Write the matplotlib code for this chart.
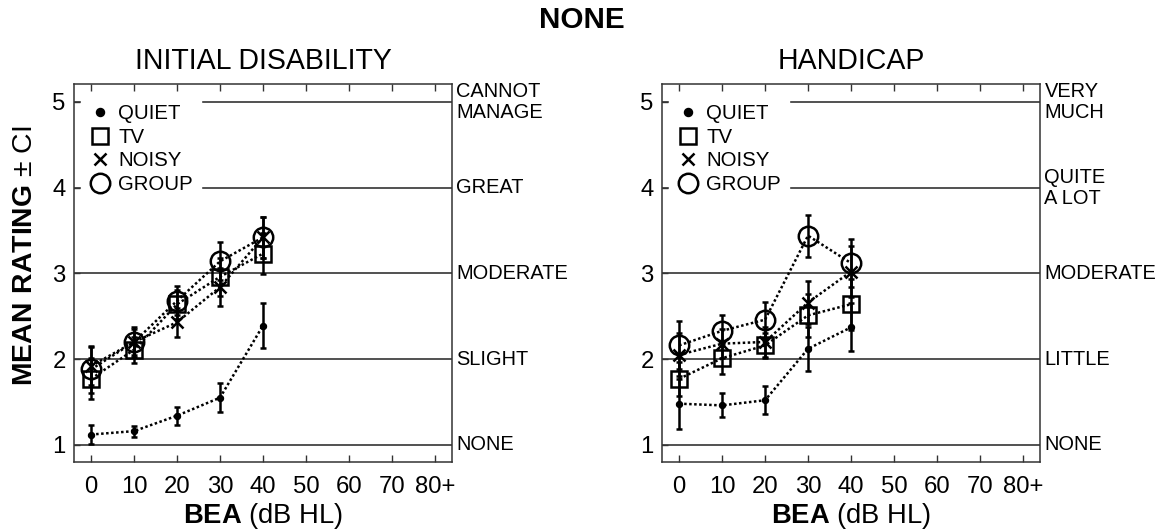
import matplotlib
matplotlib.use("Agg")
import matplotlib.pyplot as plt
import matplotlib.transforms as mtransforms
import matplotlib.font_manager as fm
from matplotlib.font_manager import FontProperties
from matplotlib.textpath import TextPath
from matplotlib.lines import Line2D

_avail = {f.name for f in fm.fontManager.ttflist}
FONT = next((c for c in ['Liberation Sans', 'Arial', 'Nimbus Sans']
             if c in _avail), 'DejaVu Sans')

plt.rcParams['font.family'] = [FONT, 'DejaVu Sans']
plt.rcParams['mathtext.fontset'] = 'custom'
plt.rcParams['mathtext.rm'] = FONT
plt.rcParams['mathtext.bf'] = FONT + ':bold'


def fit(text, width_px, cap_px, weight='normal'):
    fp = FontProperties(family=FONT, weight=weight)
    w = TextPath((0, 0), text, size=10, prop=fp).get_extents().width
    h = TextPath((0, 0), 'H', size=10, prop=fp).get_extents().height
    return (10 * width_px * 0.72 / w + 10 * cap_px * 0.72 / h) / 2


# ---------------- data ----------------
bea = [0, 10, 20, 30, 40]
xtick_vals = [0, 10, 20, 30, 40, 50, 60, 70, 80]
xtick_labels = ['0', '10', '20', '30', '40', '50', '60', '70', '80+']
yticks = [1, 2, 3, 4, 5]

disab_labels = ['NONE', 'SLIGHT', 'MODERATE', 'GREAT', 'CANNOT\nMANAGE']
handi_labels = ['NONE', 'LITTLE', 'MODERATE', 'QUITE\nA LOT', 'VERY\nMUCH']

# Initial disability
dis_quiet = [1.12, 1.16, 1.34, 1.55, 2.39]
dis_quiet_ci = [0.11, 0.065, 0.105, 0.17, 0.26]
dis_tv = [1.77, 2.11, 2.64, 2.96, 3.23]
dis_tv_ci = [0.24, 0.15, 0.17, 0.22, 0.24]
dis_noisy = [1.92, 2.20, 2.43, 2.84, 3.42]
dis_noisy_ci = [0.22, 0.15, 0.17, 0.22, 0.24]
dis_group = [1.88, 2.20, 2.68, 3.14, 3.42]
dis_group_ci = [0.27, 0.17, 0.17, 0.22, 0.24]

# Handicap
han_quiet = [1.48, 1.46, 1.52, 2.12, 2.37]
han_quiet_ci = [0.29, 0.14, 0.165, 0.26, 0.28]
han_tv = [1.77, 2.01, 2.16, 2.51, 2.64]
han_tv_ci = [0.20, 0.18, 0.15, 0.25, 0.30]
han_noisy = [2.05, 2.18, 2.20, 2.66, 3.02]
han_noisy_ci = [0.25, 0.17, 0.17, 0.25, 0.30]
han_group = [2.16, 2.33, 2.46, 3.44, 3.12]
han_group_ci = [0.28, 0.18, 0.21, 0.245, 0.28]

series_names = ['QUIET', 'TV', 'NOISY', 'GROUP']
markers = ['o', 's', 'x', 'o']
msizes = [3.5, 11, 9, 14]

panels = [
    ('INITIAL DISABILITY', disab_labels,
     [(dis_quiet, dis_quiet_ci), (dis_tv, dis_tv_ci), (dis_noisy, dis_noisy_ci), (dis_group, dis_group_ci)]),
    ('HANDICAP', handi_labels,
     [(han_quiet, han_quiet_ci), (han_tv, han_tv_ci), (han_noisy, han_noisy_ci), (han_group, han_group_ci)]),
]

fs_title = fit('INITIAL DISABILITY', 250, 20)
fs_sup = fit('NONE', 84, 20, 'bold')
fs_right = fit('MODERATE', 100, 15)
fs_tick = fit('10', 23, 17)
fs_leg = fit('GROUP', 68, 15)
fs_xlab = fit('BEA (dB HL)', 158, 18)
fs_ylab = fit('MEAN RATING + CI', 245, 20)

fig = plt.figure(figsize=(11.63, 5.31), dpi=100)
axes_pos = [[0.0636, 0.130, 0.325, 0.712], [0.5692, 0.130, 0.325, 0.712]]

dotted = (0, (1.0, 1.0))
spine_col = '#333333'

for k, (pos, (title, rlabels, data)) in enumerate(zip(axes_pos, panels)):
    ax = fig.add_axes(pos)
    ax.set_xlim(-4, 84)
    ax.set_ylim(0.80, 5.21)
    for yv in yticks:
        ax.axhline(yv, color='#222222', lw=1.1, zorder=1)
    for i, (vals, ci) in enumerate(data):
        filled = (i == 0)
        ax.errorbar(bea, vals, yerr=ci, fmt='none', ecolor='black', elinewidth=1.8,
                    capsize=2, capthick=1.8, zorder=3)
        ax.plot(bea, vals, linestyle=dotted, color='black', lw=1.8,
                marker=markers[i], ms=msizes[i],
                mfc='black' if filled else 'none', mec='black',
                mew=1.8, zorder=4)
    ax.set_xticks(xtick_vals)
    ax.set_xticklabels(xtick_labels)
    ax.set_yticks(yticks)
    ax.tick_params(axis='x', direction='in', top=True, length=5, width=1.0,
                   labelsize=fs_tick, pad=10, color=spine_col)
    ax.tick_params(axis='y', direction='in', length=4, width=1.0, labelsize=fs_tick,
                   pad=6, color=spine_col)
    for sp in ax.spines.values():
        sp.set_color(spine_col)
        sp.set_linewidth(1.1)
    trans = mtransforms.blended_transform_factory(ax.transAxes, ax.transData)
    for yv, lab in zip(yticks, rlabels):
        ax.text(1.012, yv, lab, transform=trans, ha='left', va='center',
                fontsize=fs_right, linespacing=1.15)
    ax.set_title(title, fontsize=fs_title, pad=11)
    ax.set_xlabel(r'$\bf{BEA}$ (dB HL)', fontsize=fs_xlab, labelpad=2)
    handles = []
    for i, name in enumerate(series_names):
        handles.append(Line2D([], [], linestyle='none', marker=markers[i],
                              ms=msizes[i] if i else 5,
                              mfc='black' if i == 0 else 'none', mec='black',
                              mew=1.8, label=name))
    leg = ax.legend(handles=handles, loc='upper left', bbox_to_anchor=(-0.013, 1.0),
                    frameon=True, fontsize=fs_leg,
                    handlelength=1.0, handletextpad=0.4, labelspacing=0.22,
                    borderaxespad=0.6, borderpad=0.4, fancybox=False)
    leg.get_frame().set_edgecolor('white')
    leg.get_frame().set_facecolor('white')
    leg.get_frame().set_alpha(1.0)
    if k == 0:
        ax.set_ylabel(r'$\bf{MEAN\ RATING}$ $\pm$ CI', fontsize=fs_ylab)
        ax.yaxis.set_label_coords(-0.095, 0.545)

fig.text(0.5, 0.962, 'NONE', ha='center', va='center', fontsize=fs_sup, fontweight='bold')
fig.savefig('out.png', dpi=100)
